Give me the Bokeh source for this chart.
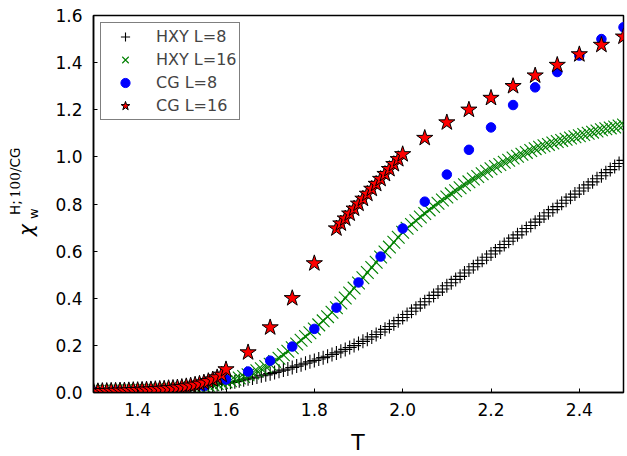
from bokeh.plotting import figure
from bokeh.layouts import row, column
from bokeh.models import Range1d, FixedTicker, PrintfTickFormatter, Legend, LegendItem, Div
from bokeh.embed import file_html
from bokeh.resources import INLINE

# ---------------- data ----------------
T_hxy = [round(1.30 + 0.01 * i, 2) for i in range(121)]

chi_hxy_L8 = [
    0.003, 0.003, 0.003, 0.004, 0.004, 0.004, 0.005, 0.005, 0.005, 0.006,
    0.006, 0.007, 0.007, 0.008, 0.008, 0.009, 0.010, 0.011, 0.012, 0.013,
    0.015, 0.017, 0.019, 0.021, 0.023, 0.025, 0.028, 0.031, 0.034, 0.037,
    0.040, 0.043, 0.046, 0.050, 0.054, 0.058, 0.062, 0.066, 0.071, 0.075,
    0.080, 0.085, 0.090, 0.095, 0.100, 0.106, 0.112, 0.118, 0.124, 0.130,
    0.136, 0.142, 0.148, 0.154, 0.161, 0.168, 0.175, 0.183, 0.191, 0.199,
    0.208, 0.217, 0.226, 0.236, 0.246, 0.257, 0.268, 0.280, 0.292, 0.305,
    0.318, 0.331, 0.345, 0.358, 0.372, 0.385, 0.399, 0.412, 0.426, 0.439,
    0.453, 0.466, 0.480, 0.493, 0.507, 0.520, 0.534, 0.547, 0.561, 0.574,
    0.588, 0.601, 0.615, 0.628, 0.642, 0.655, 0.669, 0.682, 0.696, 0.709,
    0.723, 0.736, 0.749, 0.763, 0.776, 0.789, 0.803, 0.816, 0.829, 0.842,
    0.855, 0.868, 0.881, 0.894, 0.907, 0.920, 0.933, 0.946, 0.959, 0.972,
    0.985,
]

chi_hxy_L16 = [
    0.004, 0.004, 0.005, 0.005, 0.005, 0.006, 0.006, 0.006, 0.007, 0.007,
    0.008, 0.008, 0.009, 0.009, 0.010, 0.011, 0.012, 0.013, 0.014, 0.015,
    0.017, 0.019, 0.021, 0.023, 0.025, 0.028, 0.031, 0.034, 0.038, 0.042,
    0.045, 0.050, 0.056, 0.062, 0.068, 0.075, 0.083, 0.092, 0.101, 0.110,
    0.120, 0.132, 0.145, 0.160, 0.175, 0.190, 0.206, 0.222, 0.238, 0.254,
    0.270, 0.287, 0.304, 0.322, 0.341, 0.360, 0.380, 0.401, 0.422, 0.443,
    0.465, 0.487, 0.509, 0.531, 0.553, 0.575, 0.596, 0.617, 0.638, 0.659,
    0.680, 0.697, 0.713, 0.729, 0.745, 0.760, 0.775, 0.789, 0.803, 0.817,
    0.830, 0.843, 0.856, 0.869, 0.882, 0.894, 0.906, 0.917, 0.928, 0.939,
    0.950, 0.959, 0.968, 0.977, 0.986, 0.995, 1.003, 1.011, 1.019, 1.027,
    1.035, 1.041, 1.047, 1.053, 1.059, 1.065, 1.070, 1.075, 1.080, 1.085,
    1.090, 1.095, 1.100, 1.105, 1.110, 1.115, 1.119, 1.123, 1.127, 1.131,
    1.135,
]

T_cg_L8 = [1.30, 1.35, 1.40, 1.45, 1.50, 1.55, 1.60, 1.65, 1.70, 1.75,
           1.80, 1.85, 1.90, 1.95, 2.00, 2.05, 2.10, 2.15, 2.20, 2.25,
           2.30, 2.35, 2.40, 2.45, 2.50]
chi_cg_L8 = [0.004, 0.005, 0.007, 0.010, 0.015, 0.027, 0.055, 0.089, 0.135, 0.195,
             0.270, 0.360, 0.467, 0.577, 0.696, 0.810, 0.925, 1.030, 1.125, 1.220,
             1.295, 1.360, 1.430, 1.500, 1.550]

T_cg_L16 = [1.30, 1.31, 1.32, 1.33, 1.34, 1.35, 1.36, 1.37, 1.38, 1.39,
            1.40, 1.41, 1.42, 1.43, 1.44, 1.45, 1.46, 1.47, 1.48, 1.49,
            1.50, 1.51, 1.52, 1.53, 1.54, 1.55, 1.56, 1.57, 1.58, 1.59,
            1.60, 1.65, 1.70, 1.75, 1.80,
            1.85, 1.86, 1.87, 1.88, 1.89, 1.90, 1.91, 1.92, 1.93, 1.94,
            1.95, 1.96, 1.97, 1.98, 1.99, 2.00,
            2.05, 2.10, 2.15, 2.20, 2.25, 2.30, 2.35, 2.40, 2.45, 2.50]
chi_cg_L16 = [0.005, 0.005, 0.006, 0.006, 0.007, 0.007, 0.008, 0.008, 0.009, 0.010,
              0.010, 0.011, 0.012, 0.013, 0.014, 0.015, 0.016, 0.018, 0.019, 0.021,
              0.023, 0.026, 0.029, 0.033, 0.037, 0.042, 0.048, 0.055, 0.064, 0.075,
              0.098, 0.170, 0.276, 0.400, 0.548,
              0.696, 0.717, 0.738, 0.759, 0.780, 0.801, 0.822, 0.843, 0.864, 0.885,
              0.906, 0.927, 0.948, 0.969, 0.990, 1.011,
              1.080, 1.146, 1.200, 1.250, 1.300, 1.345, 1.390, 1.435, 1.475, 1.510]

x_ticks = [1.4, 1.6, 1.8, 2.0, 2.2, 2.4]
y_ticks = [0.0, 0.2, 0.4, 0.6, 0.8, 1.0, 1.2, 1.4, 1.6]
labels = ["HXY L=8", "HXY L=16", "CG L=8", "CG L=16"]
x_title = "T"

# ---------------- layout sizes ----------------
PAGE_W, PAGE_H = 627, 456
DIV_W = 45            # column holding the rotated y title
XT_H = 26             # strip under the plot holding the x title
W, H = PAGE_W - DIV_W, PAGE_H - XT_H
ML, MR, MT, MB = 93 - DIV_W, 4, 15, H - 392

p = figure(width=W, height=H, x_range=Range1d(1.3, 2.5), y_range=Range1d(0.0, 1.6),
           output_backend="svg", toolbar_location=None,
           min_border_left=ML, min_border_right=MR, min_border_top=MT, min_border_bottom=MB)
p.grid.visible = False
p.outline_line_color = "black"
p.outline_line_width = 1.5
p.background_fill_color = "white"
p.border_fill_color = "white"

for ax in (p.xaxis[0], p.yaxis[0]):
    ax.axis_line_color = "black"
    ax.axis_line_width = 1.5
    ax.major_tick_in = 4
    ax.major_tick_out = 0
    ax.minor_tick_line_color = None
    ax.major_tick_line_color = "black"
    ax.major_label_text_font = "DejaVu Sans"
    ax.major_label_text_font_size = "17px"
    ax.major_label_text_color = "black"

p.xaxis.ticker = FixedTicker(ticks=x_ticks)
p.yaxis.ticker = FixedTicker(ticks=y_ticks)
p.xaxis.formatter = PrintfTickFormatter(format="%.1f")
p.yaxis.formatter = PrintfTickFormatter(format="%.1f")
p.xaxis.major_label_standoff = 10
p.yaxis.major_label_standoff = 11

r1 = p.scatter(T_hxy, chi_hxy_L8, marker="cross", size=14, line_color="black", line_width=1.1)
r2 = p.scatter(T_hxy, chi_hxy_L16, marker="x", size=18, line_color="green", line_width=1.1)
r3 = p.scatter(T_cg_L8, chi_cg_L8, marker="circle", size=9.5, fill_color="blue", line_color="blue")
r4 = p.scatter(T_cg_L16, chi_cg_L16, marker="star", size=17, fill_color="red",
               line_color="black", line_width=1)

legend = Legend(items=[LegendItem(label=labels[0], renderers=[r1]),
                       LegendItem(label=labels[1], renderers=[r2]),
                       LegendItem(label=labels[2], renderers=[r3]),
                       LegendItem(label=labels[3], renderers=[r4])],
                location="top_left")
legend.margin = 7
legend.padding = 2
legend.spacing = 0
legend.label_height = 20
legend.glyph_height = 23
legend.glyph_width = 44
legend.label_standoff = 9
legend.label_text_font = "DejaVu Sans"
legend.label_text_font_size = "16px"
legend.border_line_color = "black"
legend.border_line_width = 1.5
legend.background_fill_color = "white"
legend.background_fill_alpha = 1.0
p.add_layout(legend)

# ---------------- y-axis title: chi_w^{H;100/CG}, rotated, as real text ----------------
Y0 = 250  # screen y of the rotated container origin


def piece(text, start_y, baseline_x, size, family="DejaVu Sans", style="normal"):
    u = Y0 - start_y
    v = baseline_x - 0.846 * size
    return (f'<span style="position:absolute; left:{u:.1f}px; top:{v:.1f}px; '
            f'font-family:\'{family}\'; font-style:{style}; font-size:{size}px; '
            f'line-height:1; white-space:nowrap; color:black;">{text}</span>')


ylabel_html = (
    f'<div style="position:relative; width:{DIV_W}px; height:{H}px; overflow:visible;">'
    f'<div style="position:absolute; left:0px; top:{Y0}px; width:120px; height:{DIV_W}px; '
    f'transform:rotate(-90deg); transform-origin:0 0;">'
    + piece("χ", 236, 33, 20, style="italic")
    + piece("w", 219, 38, 13)
    + piece("H;", 215, 20, 13.5)
    + piece("100", 198, 20, 13.5, family="DejaVu Serif")
    + piece("/CG", 172, 20, 13.5)
    + '</div></div>'
)
ylab = Div(text=ylabel_html, width=DIV_W, height=H, margin=0)

# ---------------- x-axis title under the plot ----------------
T_SIZE = 22
t_center = 358          # frame centre in page pixels
t_cap_top = 435 - H     # cap top of the "T" inside the strip
xlabel_html = (
    f'<div style="position:relative; width:{PAGE_W}px; height:{XT_H}px;">'
    f'<span style="position:absolute; left:{t_center - 100}px; width:200px; text-align:center; '
    f'top:{t_cap_top - 0.117 * T_SIZE:.1f}px; font-family:\'DejaVu Sans\'; font-size:{T_SIZE}px; '
    f'line-height:1; color:black;">{x_title}</span></div>'
)
xlab = Div(text=xlabel_html, width=PAGE_W, height=XT_H, margin=0)

layout = column(row(ylab, p, spacing=0), xlab, spacing=0)
open("out.html", "w").write(file_html(layout, INLINE))
